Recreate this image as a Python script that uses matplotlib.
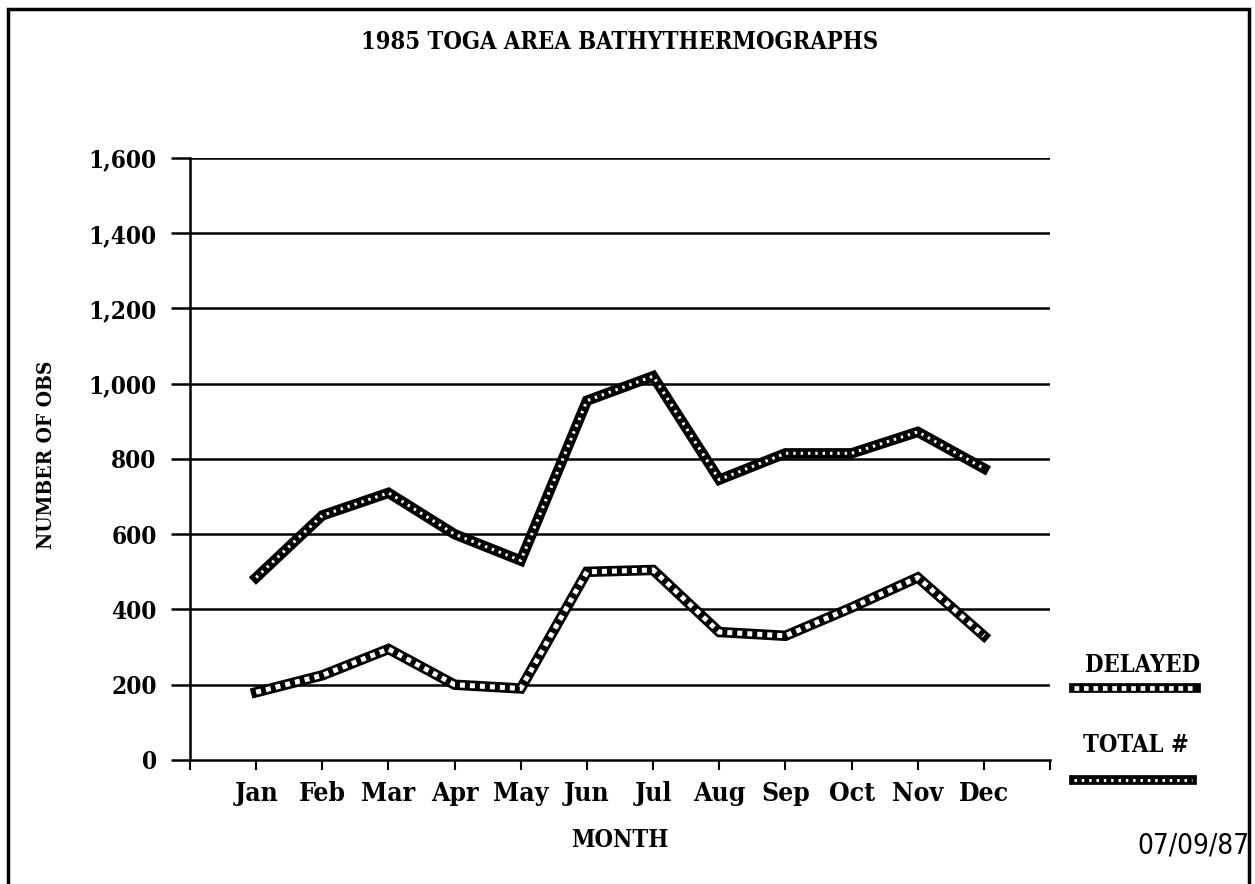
import matplotlib
matplotlib.use("Agg")
import matplotlib.pyplot as plt
from matplotlib.lines import Line2D
from matplotlib.patches import Rectangle

months = ["Jan", "Feb", "Mar", "Apr", "May", "Jun", "Jul", "Aug", "Sep", "Oct", "Nov", "Dec"]
total = [485, 650, 710, 600, 530, 955, 1020, 745, 815, 815, 872, 775]
delayed = [180, 225, 295, 200, 190, 500, 505, 340, 330, 405, 485, 330]
yticks = [0, 200, 400, 600, 800, 1000, 1200, 1400, 1600]

serif = dict(family="DejaVu Serif", stretch="condensed", weight="bold")

fig = plt.figure(figsize=(12.55, 8.84), dpi=100)
ax = fig.add_axes([0.1514, 0.1403, 0.6853, 0.681])

x = list(range(len(months)))

# total: heavy black band with white dots running inside
ax.plot(x, total, color="black", lw=7.5, solid_joinstyle="miter", zorder=3)
ax.plot(x, total, color="white", lw=2.2, linestyle=(0, (0.8, 1.6)), zorder=4)
# delayed: black band with white hatch-like stripes
ax.plot(x, delayed, color="black", lw=7.5, solid_joinstyle="miter", zorder=3)
ax.plot(x, delayed, color="white", lw=3.6, linestyle=(0, (1.0, 1.0)), zorder=4)

ax.set_xlim(-1, 12)
ax.set_ylim(0, 1600)
ax.set_xticks(range(-1, 13))
ax.set_xticklabels([""] + months + [""], fontdict=dict(size=19, **serif))
ax.set_yticks(yticks)
ax.set_yticklabels([f"{v:,}" for v in yticks], fontdict=dict(size=17.5, **serif))
for v in yticks[1:]:
    ax.axhline(v, color="black", lw=1.8, zorder=1)

ax.tick_params(axis="x", direction="out", length=7, width=1.5, pad=8)
ax.tick_params(axis="y", direction="out", length=14, width=1.8, pad=10)
for side in ("top", "right"):
    ax.spines[side].set_visible(False)
ax.spines["left"].set_linewidth(1.8)
ax.spines["bottom"].set_linewidth(1.8)

ax.set_xlabel("MONTH", fontdict=dict(size=17, **serif), labelpad=16)
fig.text(0.037, 0.486, "NUMBER OF OBS", rotation=90, ha="center", va="center",
         fontdict=dict(size=15, **serif))

fig.text(0.494, 0.953, "1985 TOGA AREA BATHYTHERMOGRAPHS", ha="center", va="center",
         fontdict=dict(size=17, **serif))

# legend drawn by hand at the right margin
fig.text(0.9105, 0.248, "DELAYED", ha="center", va="center", fontdict=dict(size=17, **serif))
fig.add_artist(Line2D([0.856, 0.953], [0.222, 0.222], color="black", lw=7))
fig.add_artist(Line2D([0.856, 0.953], [0.222, 0.222], color="white", lw=3.4,
                      linestyle=(0, (1.0, 1.0))))
fig.text(0.9055, 0.157, "TOTAL #", ha="center", va="center", fontdict=dict(size=17, **serif))
fig.add_artist(Line2D([0.856, 0.950], [0.118, 0.118], color="black", lw=7))
fig.add_artist(Line2D([0.856, 0.950], [0.118, 0.118], color="white", lw=2.2,
                      linestyle=(0, (0.8, 1.6))))

fig.text(0.996, 0.044, "07/09/87", ha="right", va="center", size=20,
         family="DejaVu Sans", stretch="condensed")

# page frame
fig.add_artist(Rectangle((0.0065, -0.01), 0.989, 1.0, transform=fig.transFigure,
                         fill=False, edgecolor="black", lw=2.5))

fig.savefig("out.png", dpi=100)
